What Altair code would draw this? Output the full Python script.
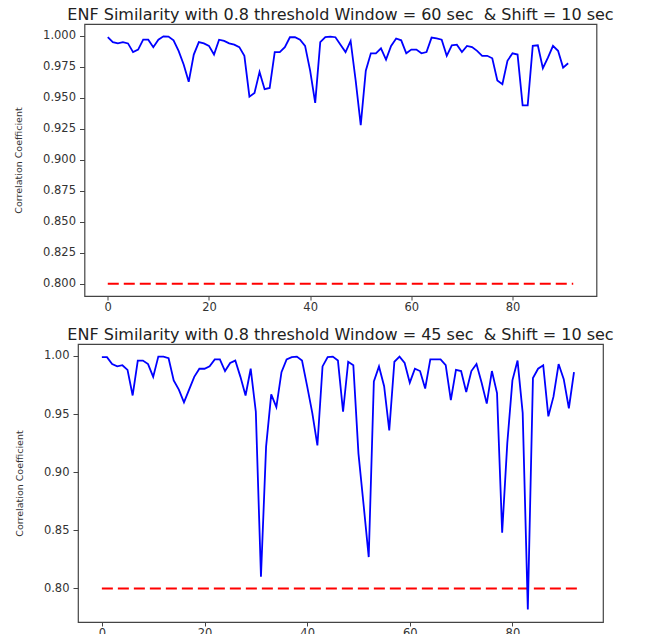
import altair as alt
import pandas as pd

top_title = "ENF Similarity with 0.8 threshold Window = 60 sec\u00a0 & Shift = 10 sec"
bottom_title = "ENF Similarity with 0.8 threshold Window = 45 sec\u00a0 & Shift = 10 sec"
y_title = "Correlation Coefficient"

top_values = [
    0.999, 0.995, 0.994, 0.995, 0.994, 0.987, 0.989, 0.997, 0.997, 0.991,
    0.997, 0.9997, 0.9995, 0.9965, 0.988, 0.977, 0.963, 0.985, 0.995, 0.994,
    0.992, 0.985, 0.997, 0.996, 0.994, 0.993, 0.991, 0.984, 0.951, 0.954,
    0.971, 0.957, 0.958, 0.987, 0.987, 0.991, 0.999, 0.999, 0.997, 0.992,
    0.972, 0.946, 0.995, 0.999, 0.9995, 0.999, 0.993, 0.987, 0.996, 0.964,
    0.928, 0.972, 0.986, 0.986, 0.990, 0.981, 0.992, 0.998, 0.9965, 0.986,
    0.989, 0.989, 0.986, 0.987, 0.9987, 0.998, 0.997, 0.984, 0.9925, 0.993,
    0.987, 0.992, 0.991, 0.988, 0.984, 0.984, 0.982, 0.964, 0.961, 0.980,
    0.986, 0.985, 0.944, 0.944, 0.992, 0.9925, 0.974, 0.9825, 0.992, 0.988,
    0.9745, 0.978,
]

bottom_values = [
    0.999, 0.999, 0.993, 0.991, 0.992, 0.988, 0.966, 0.996, 0.996, 0.993,
    0.982, 0.9994, 0.9994, 0.998, 0.979, 0.971, 0.960, 0.971, 0.982, 0.989,
    0.989, 0.991, 0.997, 0.997, 0.987, 0.994, 0.996, 0.982, 0.966, 0.989,
    0.952, 0.810, 0.922, 0.967, 0.956, 0.986, 0.997, 0.999, 0.9994, 0.996,
    0.974, 0.951, 0.923, 0.991, 0.999, 0.9994, 0.996, 0.952, 0.995, 0.992,
    0.916, 0.872, 0.827, 0.978, 0.991, 0.974, 0.936, 0.995, 0.9994, 0.994,
    0.977, 0.989, 0.987, 0.972, 0.997, 0.997, 0.997, 0.992, 0.962, 0.988,
    0.987, 0.969, 0.987, 0.993, 0.977, 0.959, 0.987, 0.968, 0.848, 0.925,
    0.979, 0.996, 0.951, 0.782, 0.981, 0.989, 0.992, 0.948, 0.965, 0.993,
    0.980, 0.955, 0.986,
]

threshold = 0.8
top_threshold_x = [0, 92]
bottom_threshold_x = [0, 93]

x_ticks = [0, 20, 40, 60, 80]
top_y_ticks = [0.800, 0.825, 0.850, 0.875, 0.900, 0.925, 0.950, 0.975, 1.000]
bottom_y_ticks = [0.80, 0.85, 0.90, 0.95, 1.00]


def padded(lo, hi, frac=0.05):
    span = hi - lo
    return [lo - frac * span, hi + frac * span]


def panel(values, thr_x, y_ticks, y_fmt, title, width, height, title_x):
    line_df = pd.DataFrame({"x": list(range(len(values))), "y": values})
    thr_df = pd.DataFrame({"x": thr_x, "y": [threshold] * len(thr_x)})

    all_x = list(line_df["x"]) + list(thr_x)
    all_y = list(values) + [threshold]
    xs = alt.Scale(domain=padded(min(all_x), max(all_x)), nice=False, zero=False)
    ys = alt.Scale(domain=padded(min(all_y), max(all_y)), nice=False, zero=False)

    x_axis = alt.Axis(values=x_ticks, title=None, grid=False, domain=False,
                      format="d", labelFlush=False, tickSize=4, labelPadding=1)
    y_axis = alt.Axis(values=y_ticks, format=y_fmt, title=y_title, grid=False,
                      domain=False, labelFlush=False, titleX=title_x,
                      titleY=height / 2, titleAngle=270, titleAlign="center",
                      titleBaseline="middle")

    enc = dict(
        x=alt.X("x:Q", scale=xs, axis=x_axis),
        y=alt.Y("y:Q", scale=ys, axis=y_axis),
    )
    red = alt.Chart(thr_df).mark_line(
        color="#ff0000", strokeWidth=2, strokeDash=[11, 5]
    ).encode(**enc)
    blue = alt.Chart(line_df).mark_line(
        color="#0000ff", strokeWidth=1.8
    ).encode(**enc)
    return alt.layer(red, blue).properties(
        width=width,
        height=height,
        title=alt.TitleParams(
            text=title, font="DejaVu Sans", fontSize=16, fontWeight="normal",
            color="#222222", frame="group", anchor="middle", offset=1,
        ),
    )


top = panel(top_values, top_threshold_x, top_y_ticks, ".3f", top_title, 512, 272, -66)
bottom = panel(bottom_values, bottom_threshold_x, bottom_y_ticks, ".2f", bottom_title, 525, 278, -59)

chart = alt.vconcat(top, bottom, spacing=48, bounds="flush", center=True).properties(
    padding={"left": 12, "top": 6, "right": 5, "bottom": 5},
    background="white",
).configure_view(
    stroke="#444444", strokeWidth=1.2
).configure_axis(
    labelFont="DejaVu Sans", labelFontSize=11.5, labelColor="#333333",
    tickColor="#444444", tickSize=5, tickWidth=1, labelPadding=4,
    titleFont="DejaVu Sans", titleFontSize=9.5, titleFontWeight="normal",
    titleColor="#333333",
)

chart.save("out.html", embed_options={"renderer": "svg", "actions": False})
